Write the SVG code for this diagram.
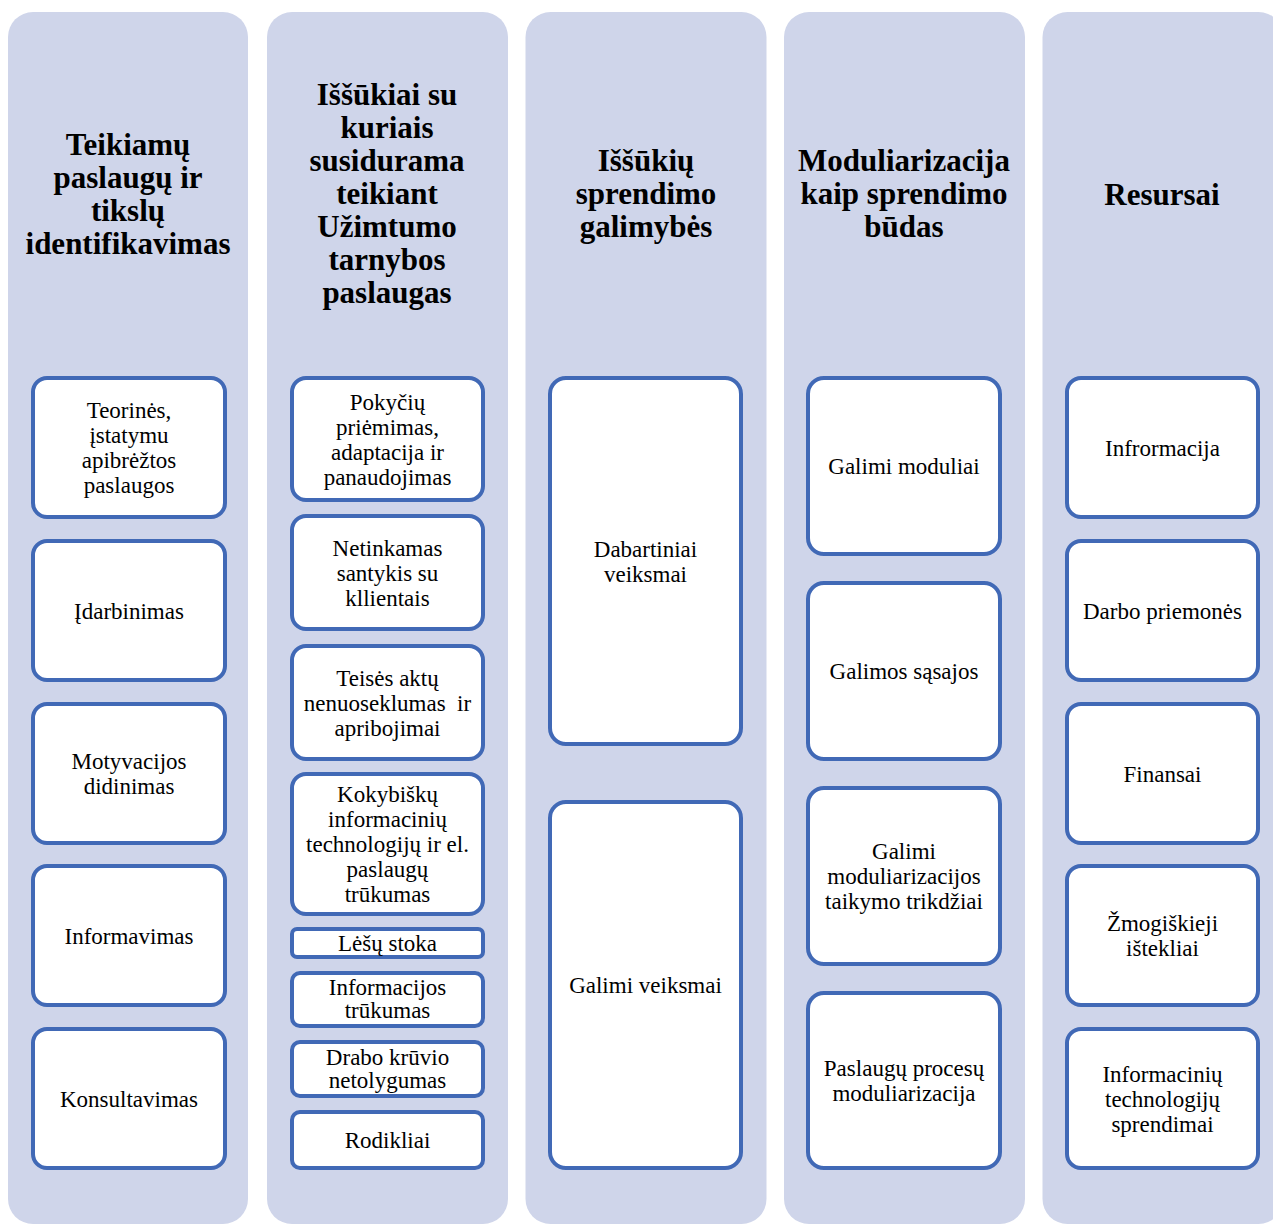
<svg xmlns="http://www.w3.org/2000/svg" width="1273" height="1225" viewBox="0 0 1273 1225">
<style>
.col{fill:#CFD5EA;}
.box{fill:#FFFFFF;stroke:#4169B6;stroke-width:4;}
.hd{font-family:"Liberation Serif","Times New Roman",serif;font-weight:bold;font-size:31px;fill:#000;text-anchor:middle;}
.tx{font-family:"Liberation Serif","Times New Roman",serif;font-size:23px;fill:#000;text-anchor:middle;}
</style>
<rect width="1273" height="1225" fill="#FFFFFF"/>
<g id="columns">
<rect class="col" x="8" y="12" width="240" height="1212" rx="25"/>
<rect class="col" x="267" y="12" width="241" height="1212" rx="25"/>
<rect class="col" x="525.5" y="12" width="241" height="1212" rx="25"/>
<rect class="col" x="784" y="12" width="241" height="1212" rx="25"/>
<rect class="col" x="1042.5" y="12" width="241" height="1212" rx="25"/>
</g>
<g id="headers">
<g id="h1"><text class="hd" x="128" y="155">Teikiamų<tspan x="128" dy="33">paslaugų ir</tspan><tspan x="128" dy="33">tikslų</tspan><tspan x="128" dy="33">identifikavimas</tspan></text></g>
<g id="h2"><text class="hd" x="387" y="105">Iššūkiai su<tspan x="387" dy="33">kuriais</tspan><tspan x="387" dy="33">susidurama</tspan><tspan x="387" dy="33">teikiant</tspan><tspan x="387" dy="33">Užimtumo</tspan><tspan x="387" dy="33">tarnybos</tspan><tspan x="387" dy="33">paslaugas</tspan></text></g>
<g id="h3"><text class="hd" x="646" y="171">Iššūkių<tspan x="646" dy="33">sprendimo</tspan><tspan x="646" dy="33">galimybės</tspan></text></g>
<g id="h4"><text class="hd" x="904" y="171">Moduliarizacija<tspan x="904" dy="33">kaip sprendimo</tspan><tspan x="904" dy="33">būdas</tspan></text></g>
<g id="h5"><text class="hd" x="1162" y="205">Resursai</text></g>
</g>
<g id="connectors"></g>
<g id="col1">
<g id="n1a"><rect class="box" x="33" y="378" width="192" height="139" rx="14"/><text class="tx" x="129" y="418">Teorinės,<tspan x="129" dy="25">įstatymu</tspan><tspan x="129" dy="25">apibrėžtos</tspan><tspan x="129" dy="25">paslaugos</tspan></text></g>
<g id="n1b"><rect class="box" x="33" y="541" width="192" height="139" rx="14"/><text class="tx" x="129" y="618.5">Įdarbinimas</text></g>
<g id="n1c"><rect class="box" x="33" y="704" width="192" height="139" rx="14"/><text class="tx" x="129" y="769">Motyvacijos<tspan x="129" dy="25">didinimas</tspan></text></g>
<g id="n1d"><rect class="box" x="33" y="866" width="192" height="139" rx="14"/><text class="tx" x="129" y="943.5">Informavimas</text></g>
<g id="n1e"><rect class="box" x="33" y="1029" width="192" height="139" rx="14"/><text class="tx" x="129" y="1106.5">Konsultavimas</text></g>
</g>
<g id="col2">
<g id="n2a"><rect class="box" x="292" y="378" width="191" height="122" rx="14"/><text class="tx" x="387.5" y="409.5">Pokyčių<tspan x="387.5" dy="25">priėmimas,</tspan><tspan x="387.5" dy="25">adaptacija ir</tspan><tspan x="387.5" dy="25">panaudojimas</tspan></text></g>
<g id="n2b"><rect class="box" x="292" y="516" width="191" height="113" rx="14"/><text class="tx" x="387.5" y="555.5">Netinkamas<tspan x="387.5" dy="25">santykis su</tspan><tspan x="387.5" dy="25">kllientais</tspan></text></g>
<g id="n2c"><rect class="box" x="292" y="646" width="191" height="113" rx="14"/><text class="tx" x="387.5" y="685.5" style="white-space:pre">Teisės aktų<tspan x="387.5" dy="25">nenuoseklumas  ir</tspan><tspan x="387.5" dy="25">apribojimai</tspan></text></g>
<g id="n2d"><rect class="box" x="292" y="774" width="191" height="140" rx="14"/><text class="tx" x="387.5" y="802">Kokybiškų<tspan x="387.5" dy="25">informacinių</tspan><tspan x="387.5" dy="25">technologijų ir el.</tspan><tspan x="387.5" dy="25">paslaugų</tspan><tspan x="387.5" dy="25">trūkumas</tspan></text></g>
<g id="n2e"><rect class="box" x="292" y="929" width="191" height="28" rx="5"/><text class="tx" x="387.5" y="951">Lėšų stoka</text></g>
<g id="n2f"><rect class="box" x="292" y="973" width="191" height="53" rx="8"/><text class="tx" x="387.5" y="995">Informacijos<tspan x="387.5" dy="23">trūkumas</tspan></text></g>
<g id="n2g"><rect class="box" x="292" y="1042" width="191" height="54" rx="8"/><text class="tx" x="387.5" y="1065">Drabo krūvio<tspan x="387.5" dy="23">netolygumas</tspan></text></g>
<g id="n2h"><rect class="box" x="292" y="1112" width="191" height="56" rx="8"/><text class="tx" x="387.5" y="1148">Rodikliai</text></g>
</g>
<g id="col3">
<g id="n3a"><rect class="box" x="550" y="378" width="191" height="366" rx="16"/><text class="tx" x="645.5" y="556.5">Dabartiniai<tspan x="645.5" dy="25">veiksmai</tspan></text></g>
<g id="n3b"><rect class="box" x="550" y="802" width="191" height="366" rx="16"/><text class="tx" x="645.5" y="993">Galimi veiksmai</text></g>
</g>
<g id="col4">
<g id="n4a"><rect class="box" x="808" y="378" width="192" height="176" rx="16"/><text class="tx" x="904" y="474">Galimi moduliai</text></g>
<g id="n4b"><rect class="box" x="808" y="583" width="192" height="176" rx="16"/><text class="tx" x="904" y="679">Galimos sąsajos</text></g>
<g id="n4c"><rect class="box" x="808" y="788" width="192" height="176" rx="16"/><text class="tx" x="904" y="859">Galimi<tspan x="904" dy="25">moduliarizacijos</tspan><tspan x="904" dy="25">taikymo trikdžiai</tspan></text></g>
<g id="n4d"><rect class="box" x="808" y="993" width="192" height="175" rx="16"/><text class="tx" x="904" y="1076">Paslaugų procesų<tspan x="904" dy="25">moduliarizacija</tspan></text></g>
</g>
<g id="col5">
<g id="n5a"><rect class="box" x="1067" y="378" width="191" height="139" rx="14"/><text class="tx" x="1162.5" y="455.5">Infrormacija</text></g>
<g id="n5b"><rect class="box" x="1067" y="541" width="191" height="139" rx="14"/><text class="tx" x="1162.5" y="618.5">Darbo priemonės</text></g>
<g id="n5c"><rect class="box" x="1067" y="704" width="191" height="139" rx="14"/><text class="tx" x="1162.5" y="781.5">Finansai</text></g>
<g id="n5d"><rect class="box" x="1067" y="866" width="191" height="139" rx="14"/><text class="tx" x="1162.5" y="931">Žmogiškieji<tspan x="1162.5" dy="25">ištekliai</tspan></text></g>
<g id="n5e"><rect class="box" x="1067" y="1029" width="191" height="139" rx="14"/><text class="tx" x="1162.5" y="1081.5">Informacinių<tspan x="1162.5" dy="25">technologijų</tspan><tspan x="1162.5" dy="25">sprendimai</tspan></text></g>
</g>
</svg>
